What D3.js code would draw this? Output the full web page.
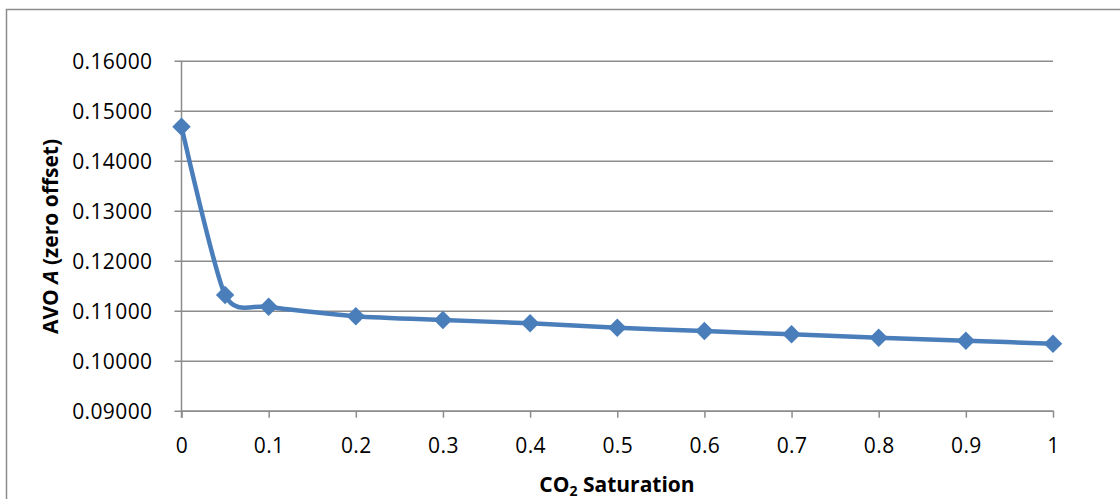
<!DOCTYPE html>
<html>
<head>
<meta charset="utf-8">
<script src="https://cdn.jsdelivr.net/npm/d3@7"></script>
<style>
  html, body { margin: 0; padding: 0; background: #fff; }
  svg { display: block; }
  text { font-family: "Open Sans", "DejaVu Sans", sans-serif; fill: #000; }
</style>
</head>
<body>
<svg id="chart" width="1120" height="499"></svg>
<script>
// CO2 saturation vs. AVO intercept (zero offset)
const saturation = [0, 0.05, 0.1, 0.2, 0.3, 0.4, 0.5, 0.6, 0.7, 0.8, 0.9, 1.0];
const avoA = [0.1468, 0.11314, 0.1108, 0.1089, 0.10814, 0.10748, 0.1066, 0.10594, 0.10528, 0.1046, 0.1040, 0.1034];
const xTicks = [0, 0.1, 0.2, 0.3, 0.4, 0.5, 0.6, 0.7, 0.8, 0.9, 1];
const yTicks = [0.09, 0.10, 0.11, 0.12, 0.13, 0.14, 0.15, 0.16];

const svg = d3.select("#chart");
const gridColor = "#8c8c8c";
const lineColor = "#4a7ebb";

// outer chart frame
svg.append("rect")
  .attr("x", 6.5).attr("y", 9.5)
  .attr("width", 1130).attr("height", 520)
  .attr("fill", "none").attr("stroke", gridColor).attr("stroke-width", 1.5);

const x = d3.scaleLinear().domain([0, 1]).range([181.5, 1053]);
const y = d3.scaleLinear().domain([0.09, 0.16]).range([410.7, 60.7]);

// horizontal gridlines with tick stubs
const yAxis = d3.axisLeft(y)
  .tickValues(yTicks)
  .tickSize(-(x.range()[1] - x.range()[0]))
  .tickFormat(d3.format(".5f"));
const gy = svg.append("g").attr("transform", `translate(${x(0)},0)`).call(yAxis);
gy.select(".domain").remove();
gy.selectAll(".tick line")
  .attr("x1", -7)
  .attr("stroke", gridColor).attr("stroke-width", 1.5);
gy.selectAll(".tick text")
  .attr("x", -29).attr("dy", "0.36em")
  .style("font-size", "21px")
  .style("letter-spacing", "0.4px");

// vertical axis line
svg.append("line")
  .attr("x1", x(0)).attr("x2", x(0))
  .attr("y1", y(0.16)).attr("y2", y(0.09) + 7)
  .attr("stroke", gridColor).attr("stroke-width", 1.5);

// bottom axis
const xAxis = d3.axisBottom(x)
  .tickValues(xTicks)
  .tickSize(7)
  .tickSizeOuter(0)
  .tickFormat(d => d3.format("")(+d.toFixed(1)));
const gx = svg.append("g").attr("transform", `translate(0,${y(0.09)})`).call(xAxis);
gx.select(".domain").attr("stroke", gridColor).attr("stroke-width", 1.5);
gx.selectAll(".tick line").attr("stroke", gridColor).attr("stroke-width", 1.5);
gx.selectAll(".tick text")
  .attr("y", 42).attr("dy", 0)
  .style("font-size", "21px")
  .style("letter-spacing", "0.4px");
svg.selectAll(".tick text").attr("fill", "#000").attr("font-family", null);

// smoothed series line
const line = d3.line()
  .x((d, i) => x(saturation[i]))
  .y(d => y(d))
  .curve(d3.curveCardinal.tension(0.3));
svg.append("path")
  .datum(avoA)
  .attr("d", line)
  .attr("fill", "none")
  .attr("stroke", lineColor)
  .attr("stroke-width", 4.5)
  .attr("stroke-linejoin", "round");

// diamond markers
const diamond = d3.symbol().type(d3.symbolSquare).size(170);
svg.append("g").selectAll("path")
  .data(avoA)
  .join("path")
  .attr("d", diamond)
  .attr("transform", (d, i) => `translate(${x(saturation[i])},${y(d)}) rotate(45)`)
  .attr("fill", lineColor);

// axis titles
const yTitle = svg.append("text")
  .attr("transform", "translate(58,236.5) rotate(-90)")
  .attr("text-anchor", "middle")
  .style("font-size", "21px")
  .style("font-weight", "bold");
yTitle.append("tspan").text("AVO ");
yTitle.append("tspan").style("font-style", "italic").text("A");
yTitle.append("tspan").text(" (zero offset)");

const xTitle = svg.append("text")
  .attr("x", 617).attr("y", 492)
  .attr("text-anchor", "middle")
  .style("font-size", "21px")
  .style("font-weight", "bold");
xTitle.append("tspan").text("CO");
xTitle.append("tspan").attr("dy", 4).style("font-size", "14px").text("2");
xTitle.append("tspan").attr("dy", -4).text(" Saturation");
</script>
</body>
</html>
